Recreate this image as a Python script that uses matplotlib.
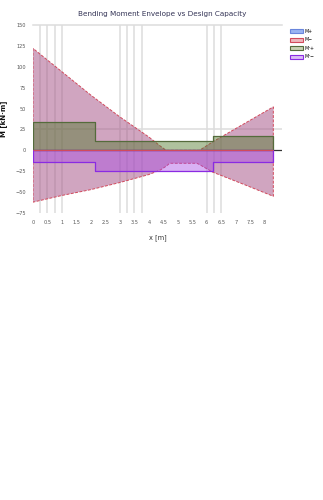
import matplotlib
matplotlib.use("Agg")
import matplotlib.pyplot as plt
from matplotlib.patches import Patch

# ---- data ----
x_env = [0, 1, 2, 3, 4, 4.4, 4.6, 4.72, 5.66, 5.75, 6.2, 7.3, 8.3]
env_upper = [122, 94, 66, 40, 16, 5, 0, 0, 0, 0, 10, 32, 52]
env_lower = [-62, -54, -47, -38.5, -29, -23.5, -19, -15.5, -15.5, -17, -26, -41, -55]

x_steps = [0, 2.14, 6.22, 8.3]
cap_pos = [34, 10.7, 17, 17]
cap_neg = [-14.3, -25, -14.3, -14.3]

sections = [0.25, 0.5, 0.75, 1.0, 3.0, 3.25, 3.5, 3.75, 6.0, 6.25, 6.5]
x_ticks = [i * 0.5 for i in range(17)]
y_ticks = [-75, -50, -25, 0, 25, 50, 75, 100, 125, 150]
legend_labels = ["M+", "M\u2212", "Mr+", "Mr\u2212"]

title = "Bending Moment Envelope vs Design Capacity"
xlabel = "x [m]"
ylabel = "M [kN\u00b7m]"

# ---- figure ----
fig = plt.figure(figsize=(3.23, 5.0), dpi=100)
ax = fig.add_axes([33 / 323, 1 - 213 / 500, 249 / 323, 188 / 500])

blue_face = (0.37, 0.51, 0.88, 0.25)
red_face = (0.78, 0.31, 0.43, 0.40)
red_edge = "#d24a5c"
green_face = (0.31, 0.47, 0.16, 0.45)
green_edge = "#556b3c"
purple_face = (0.65, 0.27, 0.90, 0.42)
purple_edge = "#8a2be2"

# reference lines
for s in sections:
    ax.axvline(s, color="#dcdcdc", lw=1.1, zorder=0)
ax.axhline(25, color="#dddddd", lw=1.1, zorder=0)
ax.axhline(150, color="#dddddd", lw=1.1, zorder=0, clip_on=False)
ax.axhline(0, color="#333333", lw=0.9, zorder=1)

# envelopes
ax.fill_between(x_env, env_lower, env_upper, facecolor=blue_face,
                edgecolor="none", zorder=2)
ax.fill_between(x_env, env_lower, env_upper, facecolor=red_face,
                edgecolor=red_edge, linestyle=(0, (3, 1.5)), lw=0.7, zorder=3)

# capacities
ax.fill_between(x_steps, 0, cap_pos, step="post", facecolor=green_face,
                edgecolor=green_edge, lw=0.9, zorder=4)
ax.fill_between(x_steps, 0, cap_neg, step="post", facecolor=purple_face,
                edgecolor=purple_edge, lw=0.9, zorder=4)
ax.hlines(0, x_env[0], x_env[-1], color=red_edge, lw=0.8, zorder=5)

ax.set_xlim(0, 8.6)
ax.set_ylim(-75, 150)
ax.set_xticks(x_ticks)
ax.set_xticklabels([("%g" % v) for v in x_ticks], fontsize=3.6, color="#555555")
ax.set_yticks(y_ticks)
ax.set_yticklabels([("%g" % v).replace("-", "\u2212") for v in y_ticks],
                   fontsize=3.6, color="#555555")
ax.tick_params(length=0, pad=5)
for sp in ax.spines.values():
    sp.set_visible(False)

ax.set_xlabel(xlabel, fontsize=4.8, color="#333333", labelpad=7)
ax.set_ylabel(ylabel, fontsize=5, color="#111111", labelpad=6, fontweight="bold")
fig.text(162 / 323, 1 - 14 / 500, title, ha="center", va="center",
         fontsize=5.2, color="#333355")

handles = [
    Patch(facecolor=(0.6, 0.7, 0.95), edgecolor="#6a86dc", lw=0.8),
    Patch(facecolor=(0.93, 0.72, 0.74), edgecolor=red_edge, lw=0.8),
    Patch(facecolor=(0.78, 0.82, 0.70), edgecolor=green_edge, lw=0.8),
    Patch(facecolor=(0.86, 0.74, 0.96), edgecolor=purple_edge, lw=0.8),
]
fig.legend(handles, legend_labels, loc="upper left",
           bbox_to_anchor=(287 / 323, 1 - 26 / 500), frameon=False,
           fontsize=3.4, handlelength=2.8, handleheight=1.0,
           labelspacing=0.75, handletextpad=0.3, borderpad=0.1)

fig.savefig("out.png", dpi=100)
